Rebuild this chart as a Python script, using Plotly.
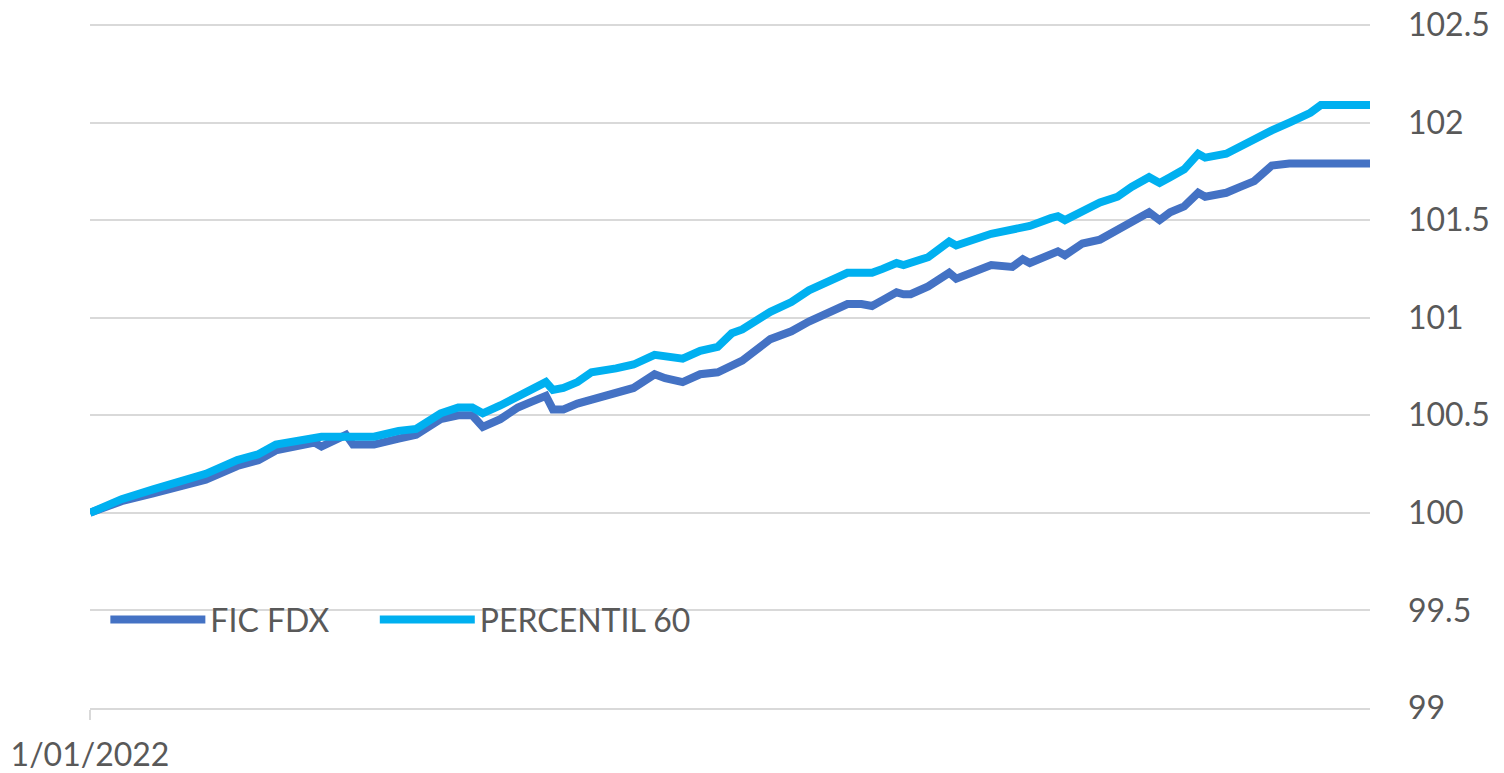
import datetime as dt
import plotly.graph_objects as go

# day offsets from 1/01/2022
days = [0, 9, 18, 24, 33, 42, 48, 53, 60, 64, 66, 69, 73, 75, 81, 88, 93, 100, 105, 109,
        112, 117, 122, 126, 130, 132, 135, 139, 143, 150, 155, 161, 164, 169, 174, 179, 183,
        186, 194, 200, 205, 210, 216, 220, 223, 226, 230, 232, 234, 239, 245, 247, 257, 263,
        266, 268, 274, 276, 278, 283, 288, 293, 297, 302, 305, 308, 312, 316, 318, 324, 328,
        332, 337, 342, 348, 351, 365]

fic_fdx = [100.00, 100.06, 100.10, 100.13, 100.17, 100.24, 100.27, 100.32, 100.35, 100.36,
           100.34, 100.37, 100.40, 100.35, 100.35, 100.38, 100.40, 100.48, 100.50, 100.50,
           100.44, 100.48, 100.54, 100.57, 100.60, 100.53, 100.53, 100.56, 100.58, 100.61,
           100.64, 100.71, 100.69, 100.67, 100.71, 100.72, 100.75, 100.78, 100.89, 100.93,
           100.98, 101.02, 101.07, 101.07, 101.06, 101.09, 101.13, 101.12, 101.12, 101.16,
           101.23, 101.20, 101.27, 101.26, 101.30, 101.28, 101.32, 101.34, 101.32, 101.38,
           101.40, 101.45, 101.48, 101.54, 101.50, 101.54, 101.57, 101.64, 101.62, 101.64,
           101.67, 101.70, 101.78, 101.79, 101.79, 101.79, 101.79]

percentil_60 = [100.00, 100.07, 100.12, 100.15, 100.20, 100.27, 100.30, 100.35, 100.37, 100.39,
                100.39, 100.39, 100.39, 100.39, 100.39, 100.42, 100.43, 100.51, 100.54, 100.54,
                100.51, 100.55, 100.60, 100.64, 100.67, 100.63, 100.64, 100.67, 100.72, 100.74,
                100.76, 100.81, 100.80, 100.79, 100.83, 100.85, 100.92, 100.94, 101.03, 101.08,
                101.14, 101.18, 101.23, 101.23, 101.23, 101.25, 101.28, 101.27, 101.28, 101.31,
                101.39, 101.37, 101.43, 101.45, 101.46, 101.47, 101.51, 101.52, 101.50, 101.55,
                101.59, 101.62, 101.67, 101.72, 101.69, 101.72, 101.76, 101.84, 101.82, 101.84,
                101.88, 101.91, 101.96, 102.00, 102.05, 102.09, 102.09]

series_names = ["FIC FDX", "PERCENTIL 60"]
series_colors = ["#4472C4", "#00B0F0"]
x_tick_labels = ["1/01/2022"]
y_tick_values = [99, 99.5, 100, 100.5, 101, 101.5, 102, 102.5]
y_tick_labels = ["99", "99.5", "100", "100.5", "101", "101.5", "102", "102.5"]

start = dt.date(2022, 1, 1)
dates = [start + dt.timedelta(days=d) for d in days]

FONT = "Lato"
GRAY = "#595959"
GRID = "#D9D9D9"
FS = 32

fig = go.Figure()
for i, (name, vals, col) in enumerate(zip(series_names, [fic_fdx, percentil_60], series_colors)):
    fig.add_trace(go.Scatter(x=dates, y=vals, mode="lines", name=name,
                             legend="legend" if i == 0 else "legend2",
                             line=dict(color=col, width=8)))

leg_common = dict(orientation="h", y=0.129, xanchor="left", yanchor="middle",
                  bgcolor="rgba(0,0,0,0)", font=dict(size=FS, color=GRAY, family=FONT),
                  itemwidth=95)

fig.update_layout(
    width=1504, height=773,
    margin=dict(l=82, r=142, t=15, b=73),
    paper_bgcolor="white", plot_bgcolor="white",
    font=dict(family=FONT, size=FS, color=GRAY),
    showlegend=True,
    legend=dict(x=0.012, **leg_common),
    legend2=dict(x=0.2225, **leg_common),
)
fig.update_xaxes(
    type="date", range=[dates[0], dates[-1]], automargin=False,
    tickvals=[dates[0]], ticktext=x_tick_labels,
    ticks="outside", ticklen=10, tickcolor=GRID, tickwidth=2,
    showline=True, linecolor=GRID, linewidth=2, showgrid=False, zeroline=False,
    ticklabelstandoff=8, ticklabeloverflow="allow",
    tickfont=dict(size=FS, color=GRAY, family=FONT),
)
fig.update_yaxes(
    side="right", range=[99, 102.51], automargin=False,
    tickmode="array", tickvals=y_tick_values, ticktext=y_tick_labels,
    showgrid=True, gridcolor=GRID, gridwidth=2, zeroline=False, showline=False,
    ticks="", ticklabelstandoff=37, ticklabeloverflow="allow",
    tickfont=dict(size=FS, color=GRAY, family=FONT),
)

fig.write_html("out.html")
